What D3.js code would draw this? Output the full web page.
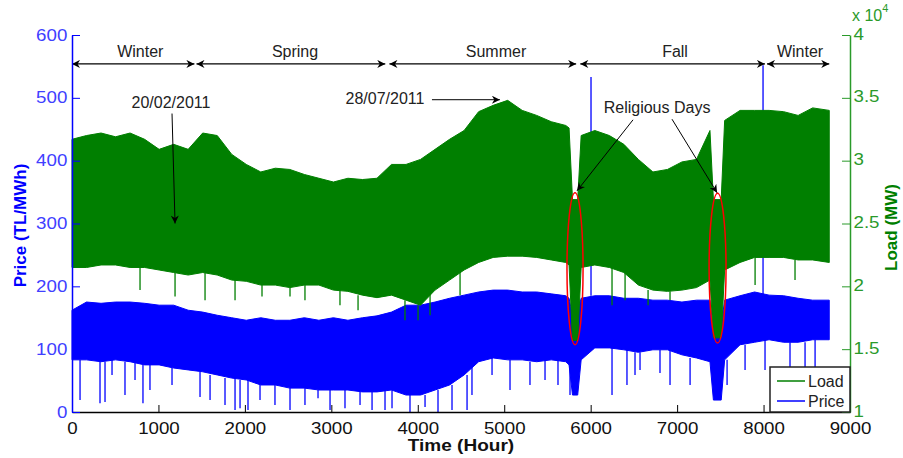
<!DOCTYPE html>
<html>
<head>
<meta charset="utf-8">
<title>load and price 2011</title>
<script src="https://cdn.jsdelivr.net/npm/d3@7"></script>
<style>
  body { margin: 0; background: #fff; }
  svg { font-family: 'Liberation Sans', Arial, sans-serif; }
</style>
</head>
<body>
<div id="chart"></div>
<script>
  // sample hours (weekly, with extra points around the two holidays)
  const hours = [0, 168, 336, 504, 672, 840, 1008, 1176, 1344, 1512,
    1680, 1848, 2016, 2184, 2352, 2520, 2688, 2856, 3024, 3192,
    3360, 3528, 3696, 3864, 4032, 4200, 4368, 4536, 4704, 4872,
    5040, 5208, 5376, 5544, 5712, 5750, 5790, 5850, 5890, 6048,
    6216, 6384, 6552, 6720, 6888, 7056, 7224, 7380, 7420, 7510,
    7550, 7728, 7896, 8064, 8232, 8400, 8568, 8760]

  // load (MW) upper / lower band
  const loadHigh = [31700, 32000, 32200, 31900, 32200, 31700, 30900, 31300, 30900, 32200,
    32000, 30500, 29700, 29100, 29400, 29300, 28900, 28600, 28300, 28600,
    28500, 28600, 29700, 29700, 30100, 30900, 31700, 32400, 33900, 34400,
    34800, 34000, 33600, 33100, 32800, 32600, 26900, 26900, 32000, 32400,
    32000, 31300, 30100, 29100, 29300, 29900, 30100, 32400, 26900, 26900,
    33200, 34000, 34000, 34000, 33900, 33600, 34200, 34000]
  const loadLow = [21500, 21500, 21700, 21700, 21500, 21500, 21300, 21100, 20900, 21100,
    20900, 20500, 20400, 20100, 20100, 19900, 20100, 20100, 19700, 19600,
    19300, 19100, 19300, 18900, 18500, 19700, 20500, 21300, 21900, 22300,
    22400, 22400, 22300, 22100, 21900, 21700, 15700, 15700, 21500, 21700,
    21500, 21100, 20100, 19700, 19600, 19700, 19900, 20500, 15900, 15900,
    21300, 21900, 22300, 22300, 22300, 22100, 22100, 21900]

  // price (TL/MWh) upper / lower band
  const priceHigh = [162, 175, 173, 175, 175, 173, 170, 170, 162, 159,
    154, 150, 146, 150, 146, 146, 150, 146, 150, 146,
    150, 153, 159, 170, 170, 175, 181, 186, 191, 194,
    194, 191, 191, 188, 185, 181, 154, 159, 181, 185,
    185, 181, 181, 178, 178, 175, 178, 178, 131, 138,
    178, 185, 191, 186, 185, 181, 178, 178]
  const priceLow = [83, 83, 80, 83, 80, 75, 75, 70, 67, 64,
    59, 54, 51, 43, 43, 38, 38, 35, 35, 35,
    32, 32, 35, 27, 27, 35, 43, 59, 80, 86,
    83, 83, 80, 83, 80, 75, 27, 27, 83, 102,
    102, 99, 95, 99, 99, 91, 86, 80, 19, 19,
    83, 107, 111, 115, 111, 111, 115, 115]

  // single-hour drops below the band
  const priceDipHour = [93, 324, 382, 463, 613, 729, 821, 902, 1157, 1481,
    1597, 1770, 1886, 1944, 2036, 2175, 2348, 2522, 2695, 2846,
    2985, 3158, 3332, 3471, 3621, 3702, 3910, 4084, 4234, 4396,
    4570, 4627, 4859, 5067, 5298, 5472, 5622, 5761, 6247, 6420,
    6513, 6571, 6802, 6918, 7150, 7439, 7578, 7786, 8017, 8306, 8480, 8596]
  const priceDipValue = [19, 14, 16, 59, 27, 51, 14, 35, 43, 24,
    19, 11, 3, 6, 3, 19, 11, 3, 11, 22,
    3, 6, 11, 3, 3, 6, 0, 8, 0, 3,
    3, 27, 59, 35, 43, 51, 43, 27, 27, 43,
    59, 67, 62, 43, 43, 24, 43, 67, 67, 51, 51, 43]
  const priceSpikeHour = [6004, 7994]
  const priceSpikeValue = [533, 552]

  const loadDipHour = [787, 1192, 1539, 1886, 2198, 2522, 2695, 3100, 3309, 3852,
    4003, 4142, 4489, 6247, 6398, 6664, 6918, 7902, 8364]
  const loadDipValue = [19700, 19200, 18900, 18900, 19200, 19200, 18900, 18500, 18100, 17300,
    17300, 17700, 19300, 18500, 18900, 18500, 18900, 20100, 20500]

  const xTicks = [0, 1000, 2000, 3000, 4000, 5000, 6000, 7000, 8000, 9000]
  const priceTicks = [0, 100, 200, 300, 400, 500, 600]
  const loadTicks = [10000, 15000, 20000, 25000, 30000, 35000, 40000]

  // annotations
  const seasons = ["Winter", "Spring", "Summer", "Fall", "Winter"]
  const seasonStart = [0, 1440, 3672, 5880, 8040]
  const seasonEnd = [1416, 3624, 5832, 8016, 8760]
  const seasonLabelHour = [790, 2580, 4905, 6976, 8422]

  const W = 903, H = 458
  const green = "#007f00", blue = "#0000ff"

  const x = d3.scaleLinear().domain([0, 9000]).range([72, 850])
  const yP = d3.scaleLinear().domain([0, 600]).range([412, 35])
  const yL = d3.scaleLinear().domain([10000, 40000]).range([412, 35])

  const svg = d3.select("#chart").append("svg")
    .attr("width", W).attr("height", H)

  const defs = svg.append("defs")
  defs.append("marker").attr("id", "head")
    .attr("viewBox", "0 0 10 10").attr("refX", 10).attr("refY", 5)
    .attr("markerWidth", 9).attr("markerHeight", 8)
    .attr("markerUnits", "userSpaceOnUse")
    .attr("orient", "auto-start-reverse")
    .append("path").attr("d", "M0,0 L10,5 L0,10 L3,5 Z").attr("fill", "#000")

  const idx = d3.range(hours.length)
  const near = h => d3.bisectCenter(hours, h)

  // price band
  const priceArea = d3.area()
    .x(i => x(hours[i])).y0(i => yP(priceLow[i])).y1(i => yP(priceHigh[i]))
  svg.append("path").attr("d", priceArea(idx))
    .attr("fill", blue).attr("stroke", blue).attr("stroke-width", 1)

  svg.append("g").selectAll("line").data(priceDipHour).join("line")
    .attr("x1", h => x(h)).attr("x2", h => x(h))
    .attr("y1", h => yP(priceLow[near(h)]))
    .attr("y2", (h, i) => yP(priceDipValue[i]))
    .attr("stroke", blue).attr("stroke-width", 1.3)

  svg.append("g").selectAll("line").data(priceSpikeHour).join("line")
    .attr("x1", h => x(h)).attr("x2", h => x(h))
    .attr("y1", h => yP(priceHigh[near(h)]))
    .attr("y2", (h, i) => yP(priceSpikeValue[i]))
    .attr("stroke", blue).attr("stroke-width", 1.3)

  // load band (drawn over the price)
  const loadArea = d3.area()
    .x(i => x(hours[i])).y0(i => yL(loadLow[i])).y1(i => yL(loadHigh[i]))
  svg.append("path").attr("d", loadArea(idx))
    .attr("fill", green).attr("stroke", green).attr("stroke-width", 1)

  svg.append("g").selectAll("line").data(loadDipHour).join("line")
    .attr("x1", h => x(h)).attr("x2", h => x(h))
    .attr("y1", h => yL(loadLow[near(h)]))
    .attr("y2", (h, i) => yL(loadDipValue[i]))
    .attr("stroke", green).attr("stroke-width", 1.3)

  // religious days ellipses
  const ellHour = [5819, 7468], ellPrice = [228, 229], ellHalfH = [93, 98], ellHalfP = [121, 119]
  svg.append("g").selectAll("ellipse").data(ellHour).join("ellipse")
    .attr("cx", h => x(h)).attr("cy", (h, i) => yP(ellPrice[i]))
    .attr("rx", (h, i) => x(h + ellHalfH[i]) - x(h))
    .attr("ry", (h, i) => yP(ellPrice[i] - ellHalfP[i]) - yP(ellPrice[i]))
    .attr("fill", "none").attr("stroke", "#ff0000").attr("stroke-width", 1.5)

  // season arrows
  const sg = svg.append("g")
  sg.selectAll("line").data(seasons).join("line")
    .attr("x1", (d, i) => x(seasonStart[i])).attr("x2", (d, i) => x(seasonEnd[i]))
    .attr("y1", yP(554)).attr("y2", yP(554))
    .attr("stroke", "#000").attr("stroke-width", 1.2)
    .attr("marker-start", "url(#head)").attr("marker-end", "url(#head)")
  sg.selectAll("text").data(seasons).join("text")
    .attr("x", (d, i) => x(seasonLabelHour[i])).attr("y", yP(565))
    .attr("text-anchor", "middle").attr("font-size", 16).attr("fill", "#222")
    .text(d => d)

  // text annotations with arrows
  const notes = [
    { t: "20/02/2011", h: 1145, p: 484 },
    { t: "28/07/2011", h: 3621, p: 490 },
    { t: "Religious Days", h: 6768, p: 476 }
  ]
  svg.append("g").selectAll("text").data(notes).join("text")
    .attr("x", d => x(d.h)).attr("y", d => yP(d.p))
    .attr("text-anchor", "middle").attr("font-size", 16).attr("fill", "#222")
    .text(d => d.t)
  const arrows = [
    [1157, 475, 1192, 300],
    [4164, 497, 4950, 497],
    [6490, 465, 5842, 352],
    [6941, 466, 7462, 349]
  ]
  svg.append("g").selectAll("line").data(arrows).join("line")
    .attr("x1", d => x(d[0])).attr("y1", d => yP(d[1]))
    .attr("x2", d => x(d[2])).attr("y2", d => yP(d[3]))
    .attr("stroke", "#000").attr("stroke-width", 1)
    .attr("marker-end", "url(#head)")

  // axes
  const sx = "scale(1.17,1)"
  const gx = svg.append("g").attr("transform", `translate(0,${yP(0)})`)
    .call(d3.axisBottom(x).tickValues(xTicks).tickSizeInner(-7).tickSizeOuter(0).tickPadding(11)
      .tickFormat(d3.format("d")))
  gx.select(".domain").attr("stroke", "#000").attr("stroke-width", 1.5)
  gx.selectAll(".tick line").attr("stroke", "#000")
  gx.selectAll(".tick text").attr("font-size", 16).attr("fill", "#111")
    .attr("font-family", "'Liberation Sans', Arial").attr("transform", sx)

  const gl = svg.append("g").attr("transform", `translate(${x(0)},0)`)
    .call(d3.axisLeft(yP).tickValues(priceTicks).tickSizeInner(-8).tickSizeOuter(0).tickPadding(4))
  gl.select(".domain").attr("stroke", blue).attr("stroke-width", 1.5)
  gl.selectAll(".tick line").attr("stroke", blue)
  gl.selectAll(".tick text").attr("font-size", 16).attr("fill", "#4040ff")
    .attr("font-family", "'Liberation Sans', Arial").attr("transform", sx)

  const gr = svg.append("g").attr("transform", `translate(${x(9000)},0)`)
    .call(d3.axisRight(yL).tickValues(loadTicks).tickSizeInner(-8).tickSizeOuter(0).tickPadding(3)
      .tickFormat(d => d3.format("~g")(d / 10000)))
  gr.select(".domain").attr("stroke", "#2a9a2a").attr("stroke-width", 1.5)
  gr.selectAll(".tick line").attr("stroke", "#2a9a2a")
  gr.selectAll(".tick text").attr("font-size", 16).attr("fill", "#2a9a2a")
    .attr("font-family", "'Liberation Sans', Arial").attr("transform", sx)
    .attr("dy", "0.25em")

  const exp = svg.append("text").attr("x", x(9000) + 2).attr("y", 21)
    .attr("font-size", 16).attr("fill", "#2a9a2a")
  exp.append("tspan").text("x 10")
  exp.append("tspan").attr("dy", -9).attr("font-size", 11).text("4")

  // axis titles
  svg.append("text").attr("x", (x(0) + x(9000)) / 2).attr("y", 451)
    .attr("text-anchor", "middle").attr("font-size", 17).attr("font-weight", "bold")
    .attr("fill", "#111").attr("transform", `translate(${-0.12 * 461},0) scale(1.12,1)`)
    .text("Time (Hour)")
  svg.append("text").attr("transform", `translate(26,${yP(300) + 2}) rotate(-90)`)
    .attr("text-anchor", "middle").attr("font-size", 17).attr("font-weight", "bold")
    .attr("fill", blue).text("Price (TL/MWh)")
  svg.append("text").attr("transform", `translate(897,${yP(300) + 4}) rotate(-90)`)
    .attr("text-anchor", "middle").attr("font-size", 17).attr("font-weight", "bold")
    .attr("fill", green).text("Load (MW)")

  // legend
  const legRight = x(9000), legBottom = yP(0)
  const leg = svg.append("g").attr("transform", `translate(${legRight - 80},${legBottom - 45})`)
  leg.append("rect").attr("width", 80).attr("height", 45)
    .attr("fill", "#fff").attr("stroke", "#222").attr("stroke-width", 1.5)
  const legItems = [["Load", green], ["Price", blue]]
  legItems.forEach((d, i) => {
    leg.append("line").attr("x1", 7).attr("x2", 35).attr("y1", 14 + i * 20).attr("y2", 14 + i * 20)
      .attr("stroke", d[1]).attr("stroke-width", 1.5)
    leg.append("text").attr("x", 38).attr("y", 20 + i * 20)
      .attr("font-size", 16).attr("fill", "#222").text(d[0])
  })
</script>
</body>
</html>
